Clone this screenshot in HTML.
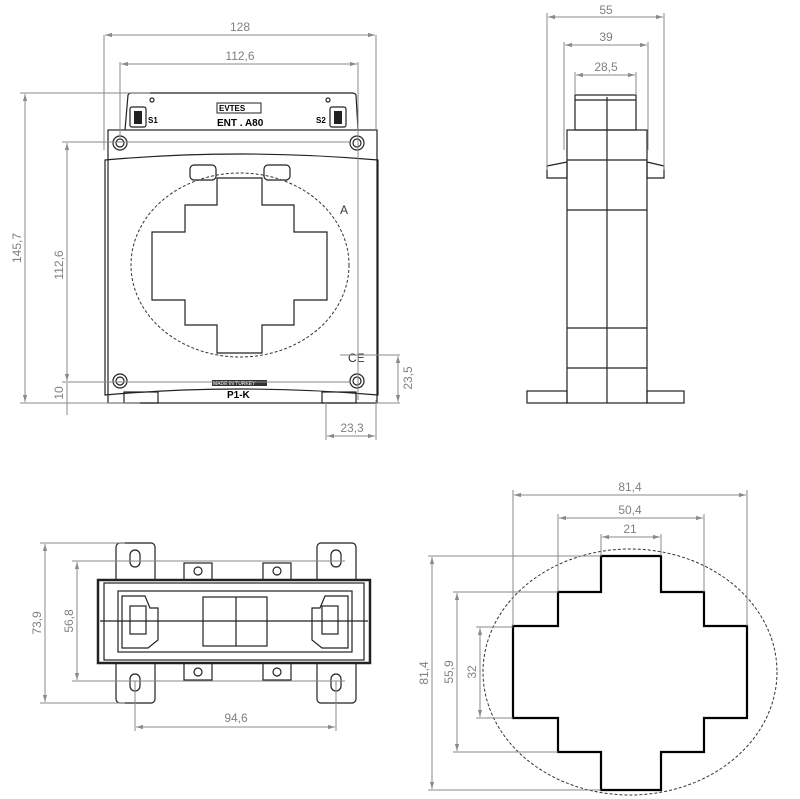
<!DOCTYPE html>
<html><head><meta charset="utf-8"><style>
html,body{margin:0;padding:0;background:#fff}
svg{display:block}
.d{stroke:#8a8a8a;stroke-width:1;fill:none}
.t{font-family:"Liberation Sans",sans-serif;font-size:12px;fill:#808080}
.k{stroke:#222;stroke-width:1.2;fill:none}
.kb{stroke:#000;stroke-width:2.2;fill:none}
</style></head><body>
<svg width="800" height="799" viewBox="0 0 800 799" xmlns="http://www.w3.org/2000/svg">
<defs>
<marker id="a" viewBox="0 0 10 10" refX="10" refY="5" markerWidth="7" markerHeight="7" orient="auto-start-reverse"><path d="M0,2 L10,5 L0,8" fill="#8a8a8a"/></marker>
</defs>
<!-- FRONT VIEW -->
<g>
<path class="k" d="M125,130 L128,95 Q129,93 132,93 L352,93 Q355,93 356,95 L358,130"/>
<rect class="k" x="108" y="130" width="269" height="273"/>
<path class="k" d="M105,160 Q240,148 378,160 L378,395 Q240,383 105,395 Z"/>
<rect class="k" x="130" y="107" width="16" height="20" rx="2"/><rect x="134" y="111" width="8" height="13" fill="#222"/>
<rect class="k" x="330" y="107" width="16" height="20" rx="2"/><rect x="334" y="111" width="8" height="13" fill="#222"/>
<text x="148" y="123" font-family="Liberation Sans" font-size="8" font-weight="bold">S1</text>
<text x="316" y="123" font-family="Liberation Sans" font-size="8" font-weight="bold">S2</text>
<rect x="217" y="103" width="44" height="10" fill="none" stroke="#222"/><text x="219" y="111" font-family="Liberation Sans" font-size="8" font-weight="bold">EVTES</text>
<text x="217" y="126" font-family="Liberation Sans" font-size="10" font-weight="bold">ENT . A80</text>
<circle cx="152" cy="100" r="2" class="k"/><circle cx="328" cy="100" r="2" class="k"/>
<g class="k"><circle cx="120" cy="143" r="7"/><circle cx="120" cy="143" r="4"/><circle cx="357" cy="143" r="7"/><circle cx="357" cy="143" r="4"/><circle cx="120" cy="381" r="7"/><circle cx="120" cy="381" r="4"/><circle cx="357" cy="381" r="7"/><circle cx="357" cy="381" r="4"/></g>
<rect class="k" x="190" y="165" width="26" height="15" rx="4"/><rect class="k" x="264" y="165" width="26" height="15" rx="4"/>
<ellipse cx="240" cy="265" rx="109" ry="92" fill="none" stroke="#333" stroke-dasharray="3,2"/>
<path class="k" stroke-width="1.5" d="M217,178 L262,178 L262,205 L294,205 L294,232 L327,232 L327,300 L294,300 L294,325 L262,325 L262,353 L217,353 L217,325 L185,325 L185,300 L152,300 L152,232 L185,232 L185,205 L217,205 Z"/>
<text x="340" y="214" font-family="Liberation Sans" font-size="12" fill="#334">A</text>
<text x="348" y="362" font-family="Liberation Sans" font-size="12" fill="#333">CE</text>
<rect x="212" y="380" width="55" height="6" fill="#333"/><text x="213" y="385" font-family="Liberation Sans" font-size="5" fill="#fff">MADE IN TURKEY</text>
<text x="227" y="398" font-family="Liberation Sans" font-size="10" font-weight="bold">P1-K</text>
<rect class="k" x="124" y="392" width="34" height="11"/><rect class="k" x="322" y="392" width="34" height="11"/>
</g>
<g class="d">
<line x1="104" y1="35" x2="104" y2="150"/><line x1="376" y1="35" x2="376" y2="130"/>
<line x1="105" y1="35" x2="375" y2="35" marker-start="url(#a)" marker-end="url(#a)"/>
<line x1="120" y1="62" x2="120" y2="140"/><line x1="358" y1="62" x2="358" y2="400"/>
<line x1="121" y1="64" x2="357" y2="64" marker-start="url(#a)" marker-end="url(#a)"/>
<line x1="20" y1="93" x2="150" y2="93"/><line x1="20" y1="403" x2="140" y2="403"/>
<line x1="25" y1="94" x2="25" y2="402" marker-start="url(#a)" marker-end="url(#a)"/>
<line x1="62" y1="142" x2="350" y2="142"/><line x1="62" y1="382" x2="350" y2="382"/>
<line x1="67" y1="143" x2="67" y2="381" marker-start="url(#a)" marker-end="url(#a)"/>
<line x1="67" y1="383" x2="67" y2="415"/>
<line x1="326" y1="403" x2="326" y2="440"/><line x1="376" y1="400" x2="376" y2="440"/>
<line x1="327" y1="436" x2="375" y2="436" marker-start="url(#a)" marker-end="url(#a)"/>
<line x1="340" y1="355" x2="400" y2="355"/><line x1="376" y1="403" x2="400" y2="403"/>
<line x1="398" y1="356" x2="398" y2="402" marker-start="url(#a)" marker-end="url(#a)"/>
</g>
<text class="t" x="240" y="31" text-anchor="middle">128</text>
<text class="t" x="240" y="60" text-anchor="middle">112,6</text>
<text class="t" transform="translate(21,248) rotate(-90)" text-anchor="middle">145,7</text>
<text class="t" transform="translate(63,265) rotate(-90)" text-anchor="middle">112,6</text>
<text class="t" transform="translate(63,393) rotate(-90)" text-anchor="middle">10</text>
<text class="t" x="352" y="432" text-anchor="middle">23,3</text>
<text class="t" transform="translate(412,378) rotate(-90)" text-anchor="middle">23,5</text>
<!-- SIDE VIEW -->
<g class="k">
<rect x="575" y="95" width="61" height="35"/>
<rect x="567" y="130" width="80" height="273"/>
<line x1="567" y1="160" x2="647" y2="160"/><line x1="567" y1="210" x2="647" y2="210"/><line x1="567" y1="328" x2="647" y2="328"/><line x1="567" y1="368" x2="647" y2="368"/>
<line x1="607" y1="97" x2="607" y2="403"/>
<path d="M547,166 L567,162 L567,178 L547,178 Z"/><path d="M647,162 L664,166 L664,178 L647,178 Z"/>
<rect x="527" y="391" width="40" height="12"/><rect x="647" y="391" width="37" height="12"/>
<line x1="575" y1="100" x2="636" y2="100"/>
</g>
<g class="d">
<line x1="547" y1="13" x2="547" y2="170"/><line x1="664" y1="13" x2="664" y2="170"/>
<line x1="548" y1="17" x2="663" y2="17" marker-start="url(#a)" marker-end="url(#a)"/>
<line x1="564" y1="42" x2="564" y2="150"/><line x1="648" y1="42" x2="648" y2="150"/>
<line x1="565" y1="45" x2="647" y2="45" marker-start="url(#a)" marker-end="url(#a)"/>
<line x1="575" y1="72" x2="575" y2="95"/><line x1="636" y1="72" x2="636" y2="95"/>
<line x1="576" y1="75" x2="635" y2="75" marker-start="url(#a)" marker-end="url(#a)"/>
</g>
<text class="t" x="606" y="14" text-anchor="middle">55</text>
<text class="t" x="606" y="41" text-anchor="middle">39</text>
<text class="t" x="606" y="71" text-anchor="middle">28,5</text>
<!-- BOTTOM VIEW -->
<g class="k">
<rect x="116" y="543" width="39" height="160" rx="4"/><rect x="317" y="543" width="39" height="160" rx="4"/>
<rect x="130" y="550" width="10" height="17" rx="5"/><rect x="130" y="674" width="10" height="17" rx="5"/>
<rect x="331" y="550" width="10" height="17" rx="5"/><rect x="331" y="674" width="10" height="17" rx="5"/>
<rect x="184" y="563" width="28" height="17"/><rect x="263" y="563" width="28" height="17"/>
<rect x="184" y="663" width="28" height="17"/><rect x="263" y="663" width="28" height="17"/>
<circle cx="198" cy="571" r="4"/><circle cx="277" cy="571" r="4"/><circle cx="198" cy="672" r="4"/><circle cx="277" cy="672" r="4"/>
<rect x="98" y="580" width="272" height="83" fill="#fff" stroke-width="2.5"/>
<rect x="104" y="583" width="260" height="77"/>
<rect x="118" y="591" width="234" height="61"/>
<rect x="203" y="597" width="64" height="49"/>
<line x1="236" y1="597" x2="236" y2="646"/>
<line x1="100" y1="621" x2="368" y2="621"/>
<path d="M122,596 L145,596 L150,608 L158,608 L158,640 L148,648 L122,648 Z"/>
<rect x="130" y="606" width="16" height="28"/>
<path d="M348,596 L325,596 L320,608 L312,608 L312,640 L322,648 L348,648 Z"/>
<rect x="322" y="606" width="16" height="28"/>
</g>
<g class="d">
<line x1="40" y1="543" x2="125" y2="543"/><line x1="40" y1="703" x2="125" y2="703"/>
<line x1="45" y1="544" x2="45" y2="702" marker-start="url(#a)" marker-end="url(#a)"/>
<line x1="72" y1="561" x2="345" y2="561"/><line x1="72" y1="681" x2="345" y2="681"/>
<line x1="77" y1="562" x2="77" y2="680" marker-start="url(#a)" marker-end="url(#a)"/>
<line x1="135" y1="681" x2="135" y2="731"/><line x1="336" y1="681" x2="336" y2="731"/>
<line x1="136" y1="727" x2="335" y2="727" marker-start="url(#a)" marker-end="url(#a)"/>
</g>
<text class="t" transform="translate(41,623) rotate(-90)" text-anchor="middle">73,9</text>
<text class="t" transform="translate(73,621) rotate(-90)" text-anchor="middle">56,8</text>
<text class="t" x="236" y="722" text-anchor="middle">94,6</text>
<!-- DETAIL A -->
<ellipse cx="630" cy="672" rx="147" ry="123" fill="none" stroke="#333" stroke-dasharray="3,2"/>
<path class="kb" d="M601,556 L661,556 L661,592 L704,592 L704,626 L747,626 L747,718 L704,718 L704,752 L661,752 L661,790 L601,790 L601,752 L558,752 L558,718 L513,718 L513,626 L558,626 L558,592 L601,592 Z"/>
<g class="d">
<line x1="513" y1="490" x2="513" y2="626"/><line x1="747" y1="490" x2="747" y2="626"/>
<line x1="514" y1="495" x2="746" y2="495" marker-start="url(#a)" marker-end="url(#a)"/>
<line x1="558" y1="514" x2="558" y2="592"/><line x1="704" y1="514" x2="704" y2="592"/>
<line x1="559" y1="518" x2="703" y2="518" marker-start="url(#a)" marker-end="url(#a)"/>
<line x1="601" y1="534" x2="601" y2="556"/><line x1="661" y1="534" x2="661" y2="556"/>
<line x1="602" y1="537" x2="660" y2="537" marker-start="url(#a)" marker-end="url(#a)"/>
<line x1="428" y1="556" x2="601" y2="556"/><line x1="428" y1="790" x2="601" y2="790"/>
<line x1="432" y1="557" x2="432" y2="789" marker-start="url(#a)" marker-end="url(#a)"/>
<line x1="453" y1="592" x2="558" y2="592"/><line x1="453" y1="752" x2="558" y2="752"/>
<line x1="457" y1="593" x2="457" y2="751" marker-start="url(#a)" marker-end="url(#a)"/>
<line x1="476" y1="627" x2="513" y2="627"/><line x1="476" y1="718" x2="513" y2="718"/>
<line x1="480" y1="628" x2="480" y2="717" marker-start="url(#a)" marker-end="url(#a)"/>
</g>
<text class="t" x="630" y="491" text-anchor="middle">81,4</text>
<text class="t" x="630" y="514" text-anchor="middle">50,4</text>
<text class="t" x="630" y="533" text-anchor="middle">21</text>
<text class="t" transform="translate(428,673) rotate(-90)" text-anchor="middle">81,4</text>
<text class="t" transform="translate(453,672) rotate(-90)" text-anchor="middle">55,9</text>
<text class="t" transform="translate(476,672) rotate(-90)" text-anchor="middle">32</text>
</svg>
</body></html>
